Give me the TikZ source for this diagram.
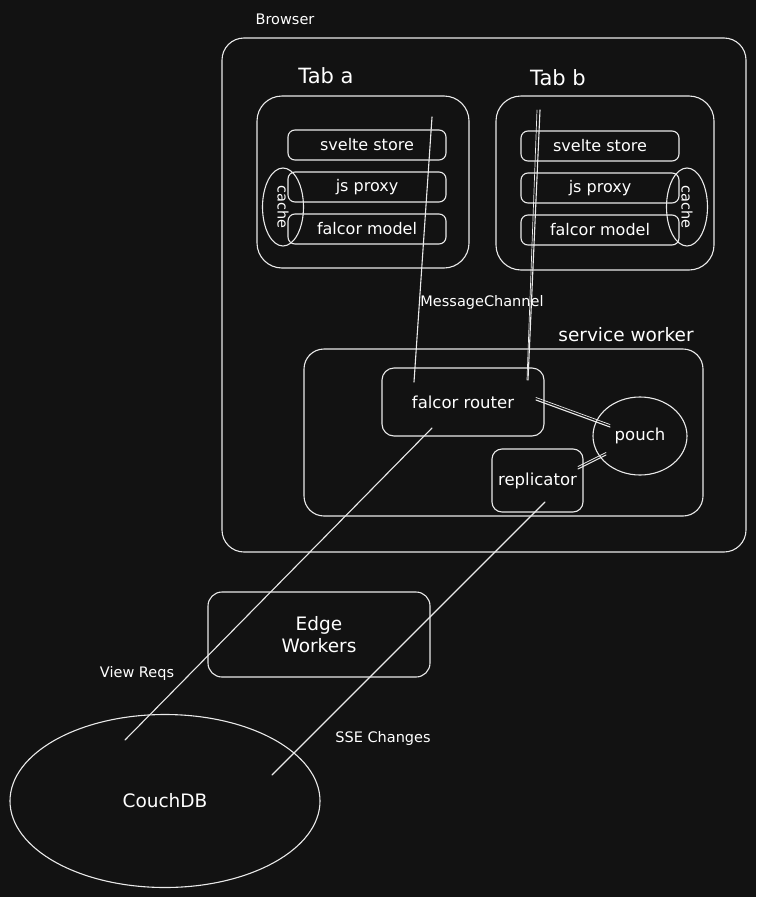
\documentclass[tikz,border=0pt]{standalone}
\usepackage{fontspec}
\setmainfont{DejaVu Sans}
\usetikzlibrary{shapes.geometric}
\definecolor{bg}{HTML}{121212}
\definecolor{ink}{HTML}{EAEAEA}
\begin{document}
\begin{tikzpicture}[x=1pt, y=-1pt, line join=round, line cap=round, color=ink, line width=1.1pt,
	lbl/.style={text=white, inner sep=0pt, font=\fontsize{14.5}{16}\selectfont},
	mid/.style={text=white, inner sep=0pt, font=\fontsize{16.5}{19}\selectfont},
	big/.style={text=white, inner sep=0pt, font=\fontsize{18.5}{22}\selectfont},
	tab/.style={text=white, inner sep=0pt, font=\fontsize{21}{24}\selectfont},
	frame/.style={draw, rectangle, rounded corners=#1},
	layer/.style={draw, rectangle, rounded corners=7, minimum width=158, minimum height=30, text=white, font=\fontsize{16}{19}\selectfont},
	cache/.style={draw, ellipse, rotate=-90, minimum width=78, minimum height=41, inner sep=0pt, text=white, font=\fontsize{14.5}{16}\selectfont}]
		\useasboundingbox (0,0) rectangle (756,897);
		\fill[bg] (0,0) rectangle (756,897);
		% browser
		\node[frame=22, minimum width=524, minimum height=514] (browser) at (484,295) {};
		\node[lbl] (browserlbl) at (285,19) {Browser};
		% tab a
		\node[frame=25, minimum width=212, minimum height=172] (taba) at (363,182) {};
		\node[tab] (tabalbl) at (326,76) {Tab a};
		\node[layer] (sveltea) at (367,145) {svelte store};
		\node[layer] (proxya) at (367,187) {js proxy};
		\node[layer] (modela) at (367,229) {falcor model};
		\node[cache] (cachea) at (283,207) {cache};
		% tab b
		\node[frame=25, minimum width=218, minimum height=174] (tabb) at (605,183) {};
		\node[tab] (tabblbl) at (558,78) {Tab b};
		\node[layer] (svelteb) at (600,146) {svelte store};
		\node[layer] (proxyb) at (600,188) {js proxy};
		\node[layer] (modelb) at (600,230) {falcor model};
		\node[cache] (cacheb) at (687,207) {cache};
		% service worker
		\node[frame=20, minimum width=399, minimum height=167] (sw) at (503.5,432.5) {};
		\node[big] (swlbl) at (626,335) {service worker};
		\node[frame=12, minimum width=162, minimum height=68, mid] (router) at (463,402) {falcor router};
		\node[draw, ellipse, minimum width=94, minimum height=78, inner sep=0pt, mid] (pouch) at (640,436) {pouch};
		\node[frame=10, minimum width=91, minimum height=63, mid] (repl) at (537.5,480.5) {replicator};
		% edge + couch
		\node[frame=14, minimum width=222, minimum height=85, big, align=center] (edge) at (319,634.5) {Edge\\Workers};
		\node[draw, ellipse, minimum width=310, minimum height=173, inner sep=0pt, big] (couch) at (165,801) {CouchDB};
		% message channel
		\coordinate (mca) at (432,117);
		\coordinate (mcb) at (540,110);
		\coordinate (ra) at (414,382);
		\coordinate (rb) at (528,380);
		\draw (mca) -- (ra);
		\draw (mcb) -- (rb);
		\draw[line width=0.7pt] ([xshift=-3]mcb) -- ([xshift=-1]rb);
		\node[lbl] (mclbl) at (482,302) {MessageChannel};
		% router, replicator <-> pouch
		\coordinate (rp1) at (536,400);
		\coordinate (rp2) at (610,427);
		\draw (rp1) -- (rp2);
		\draw[line width=0.7pt] ([yshift=2.5]rp1) -- ([yshift=2.5]rp2);
		\coordinate (pr1) at (578,469);
		\coordinate (pr2) at (606,455);
		\draw (pr1) -- (pr2);
		\draw[line width=0.7pt] ([yshift=2.5]pr1) -- ([yshift=2.5]pr2);
		% to couch
		\coordinate (vr1) at (432,428);
		\coordinate (vr2) at (125,740);
		\draw (vr1) -- (vr2);
		\node[lbl] (vrlbl) at (137,673) {View Reqs};
		\coordinate (sse1) at (545,502);
		\coordinate (sse2) at (272,775);
		\draw (sse1) -- (sse2);
		\node[lbl] (sselbl) at (383,738) {SSE Changes};
	\end{tikzpicture}
\end{document}
